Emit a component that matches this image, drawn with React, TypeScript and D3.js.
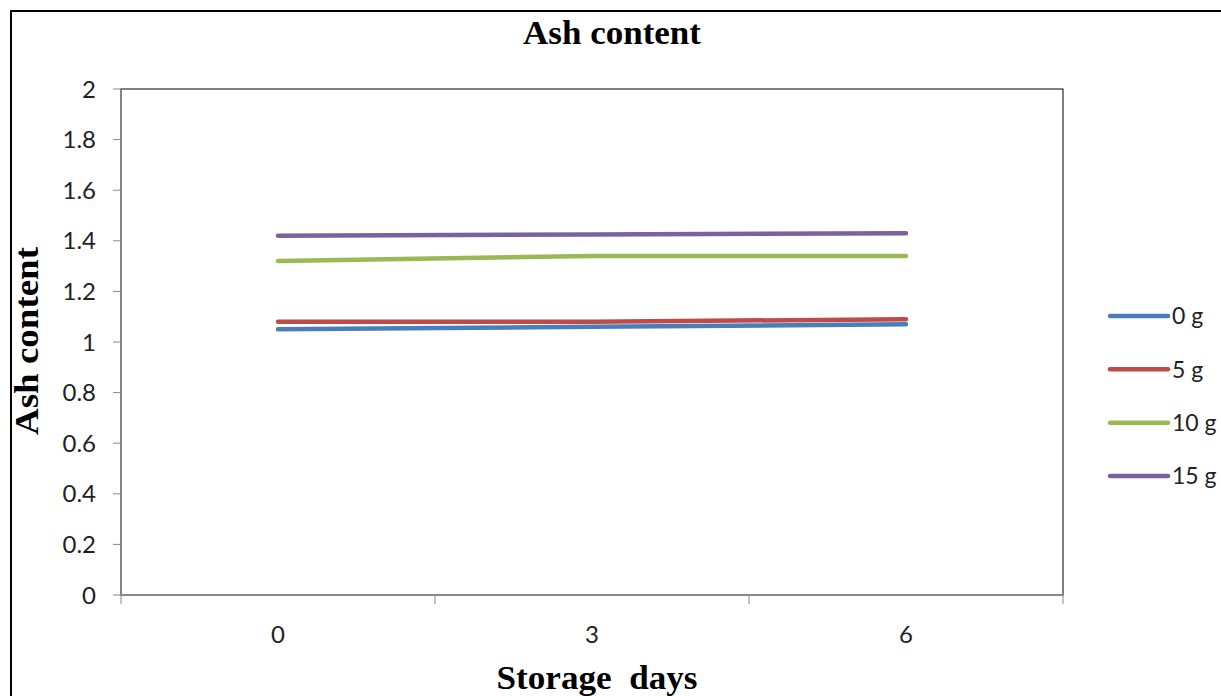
import React from "react";
import * as d3 from "d3";

const days = ["0", "3", "6"];
const seriesNames = ["0 g", "5 g", "10 g", "15 g"];
const values0g = [1.05, 1.06, 1.07];
const values5g = [1.08, 1.08, 1.09];
const values10g = [1.32, 1.34, 1.34];
const values15g = [1.42, 1.425, 1.43];
const yTicks = [0, 0.2, 0.4, 0.6, 0.8, 1, 1.2, 1.4, 1.6, 1.8, 2];
const colors = ["#4A7EBB", "#BE4B48", "#98B954", "#7D60A0"];

const allSeries = [values0g, values5g, values10g, values15g];

export default function App() {
  const W = 1221, H = 696;
  const left = 121, right = 1063, top = 89, bottom = 595;
  const x = d3.scaleBand<string>().domain(days).range([left, right]).padding(0);
  const y = d3.scaleLinear().domain([0, 2]).range([bottom, top]);
  const cx = (d: string) => (x(d) as number) + x.bandwidth() / 2;
  const line = d3.line<number>().x((_, i) => cx(days[i])).y((v) => y(v));
  const bounds = [left, ...days.map((d) => (x(d) as number) + x.bandwidth())];
  const tickFont = "Lato, 'Open Sans', sans-serif";
  const serif = "'Liberation Serif', 'DejaVu Serif', serif";
  const legendY = d3.scalePoint<string>().domain(seriesNames).range([316, 476]);

  return (
    <svg width={W} height={H} style={{ position: "absolute", left: 0, top: 0 }}>
      <rect x={0} y={0} width={W} height={H} fill="#fff" />
      <rect x={11} y={11} width={1240} height={720} fill="none" stroke="#000" strokeWidth={2} />
      <text x={612} y={44} textAnchor="middle" fontFamily={serif} fontWeight="bold" fontSize={33} textLength={178} lengthAdjust="spacingAndGlyphs">
        Ash content
      </text>
      {/* plot border */}
      <rect x={left} y={top} width={right - left} height={bottom - top} fill="none" stroke="#000" strokeWidth={1} />
      {/* y axis */}
      <line x1={left} y1={top} x2={left} y2={bottom} stroke="#888" strokeWidth={1} />
      {yTicks.map((t) => (
        <g key={t}>
          <line x1={113} x2={left} y1={y(t)} y2={y(t)} stroke="#888" strokeWidth={1} />
          <text x={96} y={y(t)} dy="0.36em" textAnchor="end" fontFamily={tickFont} fontSize={24} fill="#222">
            {String(t)}
          </text>
        </g>
      ))}
      {/* x axis */}
      <line x1={left} y1={bottom} x2={right} y2={bottom} stroke="#888" strokeWidth={2} />
      {bounds.map((b, i) => (
        <line key={i} x1={b} x2={b} y1={bottom} y2={bottom + 9} stroke="#888" strokeWidth={1} />
      ))}
      {days.map((d) => (
        <text key={d} x={cx(d)} y={643} textAnchor="middle" fontFamily={tickFont} fontSize={24} fill="#222">
          {d}
        </text>
      ))}
      <text x={597} y={689} textAnchor="middle" fontFamily={serif} fontWeight="bold" fontSize={33} xmlSpace="preserve" textLength={201} lengthAdjust="spacingAndGlyphs">
        Storage  days
      </text>
      <text
        transform={`translate(38, 341) rotate(-90)`}
        textAnchor="middle"
        fontFamily={serif}
        fontWeight="bold"
        fontSize={33}
        textLength={188}
        lengthAdjust="spacingAndGlyphs"
      >
        Ash content
      </text>
      {allSeries.map((s, i) => (
        <path key={i} d={line(s) as string} fill="none" stroke={colors[i]} strokeWidth={4.5} strokeLinecap="round" />
      ))}
      {seriesNames.map((n, i) => (
        <g key={n}>
          <line x1={1110} x2={1168} y1={legendY(n)} y2={legendY(n)} stroke={colors[i]} strokeWidth={4.5} strokeLinecap="round" />
          <text x={1172} y={legendY(n)} dy="0.36em" fontFamily={tickFont} fontSize={23} fill="#222">
            {n}
          </text>
        </g>
      ))}
    </svg>
  );
}
